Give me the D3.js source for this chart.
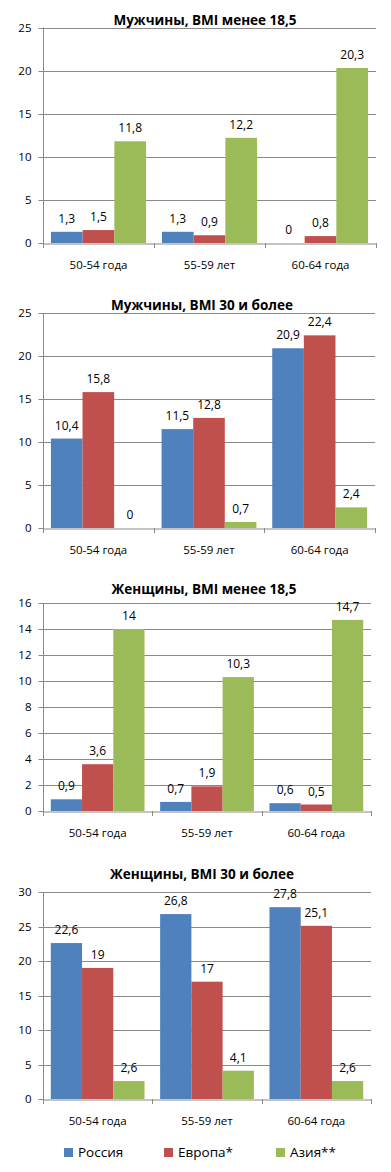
<!DOCTYPE html>
<html><head><meta charset="utf-8">
<script src="https://cdn.jsdelivr.net/npm/d3@7"></script>
<style>
html,body{margin:0;padding:0;background:#fff;}
svg{display:block;font-family:"Open Sans",sans-serif;}
</style></head>
<body><svg id="c" width="391" height="1172"></svg>
<script>
const categories = ["50-54 года", "55-59 лет", "60-64 года"];
const seriesNames = ["Россия", "Европа*", "Азия**"];
const seriesColors = ["#4F81BD", "#C0504D", "#9BBB59"];
const titles = ["Мужчины, BMI менее 18,5", "Мужчины, BMI 30 и более", "Женщины, BMI менее 18,5", "Женщины, BMI 30 и более"];
const men185 = [[1.3, 1.3, 0], [1.5, 0.9, 0.8], [11.8, 12.2, 20.3]];
const men30 = [[10.4, 11.5, 20.9], [15.8, 12.8, 22.4], [0, 0.7, 2.4]];
const women185 = [[0.9, 0.7, 0.6], [3.6, 1.9, 0.5], [14, 10.3, 14.7]];
const women30 = [[22.6, 26.8, 27.8], [19, 17, 25.1], [2.6, 4.1, 2.6]];
const yTicks1 = [0, 5, 10, 15, 20, 25];
const yTicks2 = [0, 5, 10, 15, 20, 25];
const yTicks3 = [0, 2, 4, 6, 8, 10, 12, 14, 16];
const yTicks4 = [0, 5, 10, 15, 20, 25, 30];

const panels = [
  {data: men185, ticks: yTicks1, title: titles[0], titleY: 25, top: 27.5, bottom: 243, right: 376, tx: 205},
  {data: men30, ticks: yTicks2, title: titles[1], titleY: 310, top: 313, bottom: 528, right: 375, tx: 202},
  {data: women185, ticks: yTicks3, title: titles[2], titleY: 594, top: 603, bottom: 811, right: 371, tx: 204},
  {data: women30, ticks: yTicks4, title: titles[3], titleY: 879, top: 892, bottom: 1099, right: 371, tx: 202}
];
const left = 43;
const svg = d3.select("#c");
const gridColor = "#8a8a8a";
const fmt = v => String(v).replace(".", ",");

panels.forEach(p => {
  const g = svg.append("g");
  const maxV = d3.max(p.ticks);
  const y = d3.scaleLinear().domain([0, maxV]).range([p.bottom, p.top]);
  const x0 = d3.scaleBand().domain(categories).range([left, p.right]).paddingInner(0).paddingOuter(0);
  const W = x0.bandwidth();
  const bw = W / 3.5;
  const x1 = d3.scaleBand().domain(seriesNames).range([bw * 0.25, W - bw * 0.25]).padding(0);

  // gridlines
  g.append("g").selectAll("line").data(p.ticks.filter(t => t > 0)).join("line")
    .attr("x1", left).attr("x2", p.right)
    .attr("y1", d => Math.round(y(d)) + 0.5).attr("y2", d => Math.round(y(d)) + 0.5)
    .attr("stroke", gridColor).attr("stroke-width", 1);

  // y axis
  const ya = g.append("g").attr("transform", `translate(${left + 0.5},0)`)
    .call(d3.axisLeft(y).tickValues(p.ticks).tickSize(5).tickPadding(7).tickFormat(d => d));
  ya.select(".domain").attr("stroke", gridColor).attr("d", `M0,${p.top}V${p.bottom}`);
  ya.selectAll(".tick line").attr("stroke", gridColor);
  ya.selectAll(".tick").attr("transform", d => `translate(0,${Math.round(y(d)) + 0.5})`);
  ya.selectAll("text").attr("font-size", 11.5).attr("fill", "#000").attr("font-family", "Open Sans");

  // bars
  seriesNames.forEach((s, si) => {
    g.append("g").selectAll("rect").data(p.data[si]).join("rect")
      .attr("x", (d, i) => x0(categories[i]) + x1(s))
      .attr("width", x1.bandwidth())
      .attr("y", d => y(d))
      .attr("height", d => p.bottom - y(d))
      .attr("fill", seriesColors[si]);
    g.append("g").selectAll("text").data(p.data[si]).join("text")
      .attr("x", (d, i) => x0(categories[i]) + x1(s) + x1.bandwidth() / 2)
      .attr("y", d => y(d) - 9)
      .attr("text-anchor", "middle")
      .attr("font-size", 12).attr("fill", "#000")
      .text(d => fmt(d));
  });

  // x axis
  const xa = g.append("g").attr("transform", `translate(0,${Math.round(p.bottom) + 0.5})`)
    .call(d3.axisBottom(x0).tickSize(0).tickPadding(17));
  xa.select(".domain").attr("stroke", gridColor);
  xa.selectAll("text").attr("font-size", 11.5).attr("fill", "#000").attr("font-family", "Open Sans");
  g.append("g").selectAll("line").data(d3.range(categories.length + 1)).join("line")
    .attr("x1", i => Math.round(left + i * W) + 0.5).attr("x2", i => Math.round(left + i * W) + 0.5)
    .attr("y1", p.bottom).attr("y2", p.bottom + 5)
    .attr("stroke", gridColor);

  // title
  g.append("text").attr("x", p.tx).attr("y", p.titleY).attr("text-anchor", "middle")
    .attr("font-size", 13.5).attr("font-weight", "bold").attr("fill", "#000")
    .text(p.title);
});

// legend
const legX = [64, 164, 276];
const leg = svg.append("g");
seriesNames.forEach((s, i) => {
  leg.append("rect").attr("x", legX[i]).attr("y", 1148).attr("width", 9).attr("height", 9).attr("fill", seriesColors[i]);
  leg.append("text").attr("x", legX[i] + 14).attr("y", 1157).attr("font-size", 13.5).attr("fill", "#000").text(s);
});
</script></body></html>
